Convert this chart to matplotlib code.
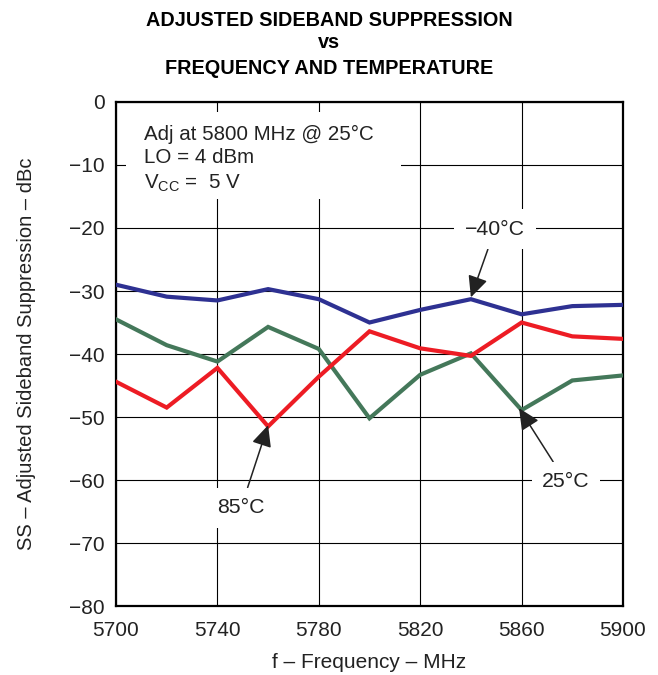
import matplotlib
matplotlib.use("Agg")
import matplotlib.pyplot as plt
from matplotlib.patches import Rectangle

plt.rcParams['font.family'] = ['Liberation Sans', 'DejaVu Sans']

freq = [5700, 5720, 5740, 5760, 5780, 5800, 5820, 5840, 5860, 5880, 5900]
ss_m40 = [-29.0, -30.9, -31.5, -29.7, -31.3, -35.0, -33.0, -31.3, -33.7, -32.4, -32.2]
ss_25 = [-34.5, -38.6, -41.2, -35.7, -39.2, -50.2, -43.3, -39.9, -48.9, -44.2, -43.4]
ss_85 = [-44.4, -48.5, -42.2, -51.5, -43.6, -36.4, -39.1, -40.3, -35.0, -37.2, -37.6]

xticks = [5700, 5740, 5780, 5820, 5860, 5900]
yticks = [0, -10, -20, -30, -40, -50, -60, -70, -80]

TXT = '#222222'
fig = plt.figure(figsize=(6.58, 6.75), dpi=100)
ax = fig.add_axes([0.1763, 0.1022, 0.7705, 0.7467])

ax.plot(freq, ss_m40, color='#2e3192', lw=3.0, zorder=3, solid_joinstyle='miter')
ax.plot(freq, ss_25, color='#44785a', lw=3.0, zorder=3, solid_joinstyle='miter')
ax.plot(freq, ss_85, color='#ed1c24', lw=3.0, zorder=3, solid_joinstyle='miter')

ax.set_xlim(5700, 5900)
ax.set_ylim(-80, 0)
ax.set_xticks(xticks)
ax.set_yticks(yticks)
ax.set_xticklabels([str(v) for v in xticks])
ax.set_yticklabels([str(v).replace('-', '\u2212') for v in yticks])
ax.tick_params(length=0, labelsize=15, pad=8, colors=TXT)
ax.tick_params(axis='x', pad=10.5)
ax.grid(True, color='black', lw=0.8)
ax.set_axisbelow(True)
for s in ax.spines.values():
    s.set_linewidth(1.6)

ax.set_xlabel('f \u2013 Frequency \u2013 MHz', fontsize=15, color=TXT, labelpad=10)
ax.set_ylabel('SS \u2013 Adjusted Sideband Suppression \u2013 dBc', fontsize=14.5, color=TXT, labelpad=24)

fig.text(0.5, 1 - 26 / 675, 'ADJUSTED SIDEBAND SUPPRESSION', ha='center', va='baseline',
         fontsize=14.3, fontweight='bold')
fig.text(0.5, 1 - 48 / 675, 'vs', ha='center', va='baseline', fontsize=14.3, fontweight='bold')
fig.text(0.5, 1 - 74 / 675, 'FREQUENCY AND TEMPERATURE', ha='center', va='baseline',
         fontsize=14.3, fontweight='bold')

# white backing for the conditions text block
ax.add_patch(Rectangle((5704, -15.4), 108.5, 13.8, transform=ax.transData,
                       fc='white', ec='none', zorder=2))
ax.text(5711, -3.6, 'Adj at 5800 MHz @ 25\u00b0C\nLO = 4 dBm\nV$_{\\mathregular{CC}}$ =  5 V',
        fontsize=14.8, va='top', ha='left', linespacing=1.3, zorder=4, color=TXT)

bbox = dict(boxstyle='square,pad=0.5', fc='white', ec='none')
ap = dict(arrowstyle='-|>,head_length=0.85,head_width=0.4', color=TXT, lw=1.1,
          shrinkA=0, shrinkB=0)
ax.annotate('\u221240\u00b0C', xy=(5840, -31.0), xytext=(5849.5, -20.2), fontsize=15.3,
            ha='center', va='center', color=TXT, bbox=bbox, arrowprops=ap, zorder=5)
ax.annotate('85\u00b0C', xy=(5760, -51.3), xytext=(5749.3, -64.4), fontsize=15.3,
            ha='center', va='center', color=TXT, bbox=bbox, arrowprops=ap, zorder=5)
ax.annotate('25\u00b0C', xy=(5859, -48.6), xytext=(5877.5, -60.3), fontsize=15.3,
            ha='center', va='center', color=TXT, bbox=bbox, arrowprops=ap, zorder=5)

fig.savefig('out.png', dpi=100)
